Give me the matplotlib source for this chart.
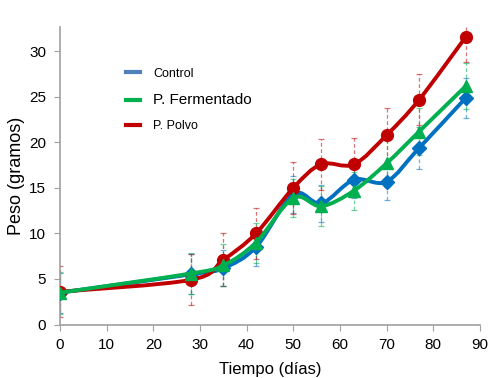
import numpy as np
import matplotlib
matplotlib.use("Agg")
import matplotlib.pyplot as plt
from matplotlib.path import Path
from matplotlib.patches import PathPatch
from matplotlib.lines import Line2D

plt.rcParams['font.family'] = ['Liberation Sans', 'DejaVu Sans']

# data
dias = [0, 28, 35, 42, 50, 56, 63, 70, 77, 87]
control = [3.5, 5.5, 6.2, 8.5, 14.3, 13.3, 15.9, 15.7, 19.4, 24.9]
fermentado = [3.5, 5.6, 6.5, 9.0, 13.9, 13.0, 14.7, 17.7, 21.2, 26.2]
polvo = [3.6, 4.9, 7.1, 10.0, 15.0, 17.6, 17.6, 20.8, 24.7, 31.6]
err_control = [2.2, 2.2, 2.0, 2.1, 2.0, 2.0, 2.0, 2.0, 2.3, 2.2]
err_fermentado = [2.3, 2.3, 2.3, 2.2, 2.1, 2.2, 2.1, 2.6, 2.6, 2.5]
err_polvo = [2.8, 2.8, 2.9, 2.8, 2.9, 2.8, 2.9, 3.0, 2.8, 2.8]

series = [
    ("Control", control, err_control, "#0070C0", "D", 7, 3),
    ("P. Polvo", polvo, err_polvo, "#C00000", "o", 8.5, 4),
    ("P. Fermentado", fermentado, err_fermentado, "#00B050", "^", 8.5, 5),
]


def smooth_path(x, y):
    # Excel-style smoothed line built from cubic Bezier segments
    p = np.column_stack([x, y]).astype(float)
    n = len(p)
    verts = [p[0]]
    codes = [Path.MOVETO]
    for i in range(n - 1):
        p_prev = p[i - 1] if i > 0 else p[i]
        p_next2 = p[i + 2] if i + 2 < n else p[i + 1]
        c1 = p[i] + (p[i + 1] - p_prev) / 6.0
        c2 = p[i + 1] - (p_next2 - p[i]) / 6.0
        verts += [c1, c2, p[i + 1]]
        codes += [Path.CURVE4] * 3
    return Path(verts, codes)


fig = plt.figure(figsize=(4.91, 3.78), dpi=100)
ax = fig.add_axes([0.1222, 0.1415, 0.855, 0.7875])

for name, vals, err, col, mk, ms, z in series:
    eb = ax.errorbar(dias, vals, yerr=err, fmt='none', ecolor=col, elinewidth=0.9,
                     capsize=2, capthick=0.9, alpha=0.55, zorder=2)
    eb[2][0].set_linestyle((0, (3, 2)))
    ax.add_patch(PathPatch(smooth_path(dias, vals), fill=False, edgecolor=col,
                           lw=2.8, zorder=z))
    ax.plot(dias, vals, linestyle='none', marker=mk, ms=ms, color=col, zorder=z)

ax.set_xlim(0, 90)
ax.set_ylim(0, 32.7)
ax.set_xticks(range(0, 91, 10))
ax.set_yticks(range(0, 31, 5))
ax.tick_params(labelsize=11, direction='out', length=4, color='#A0A0A0', pad=6)
for s in ['top', 'right']:
    ax.spines[s].set_visible(False)
for s in ['left', 'bottom']:
    ax.spines[s].set_color('#A0A0A0')
    ax.spines[s].set_linewidth(1.2)

ax.set_xlabel('Tiempo (días)', fontsize=12, labelpad=7)
ax.set_ylabel('Peso (gramos)', fontsize=13, labelpad=3)

handles = [Line2D([], [], color=c, lw=3) for c in ["#4F81BD", "#00B050", "#C00000"]]
leg = ax.legend(handles, ["Control", "P. Fermentado", "P. Polvo"], loc='upper left',
                bbox_to_anchor=(0.13, 0.9), frameon=False, handlelength=1.1,
                handletextpad=1.1, labelspacing=1.05, fontsize=9)
leg.get_texts()[1].set_fontsize(11)

fig.savefig('out.png', dpi=100)
